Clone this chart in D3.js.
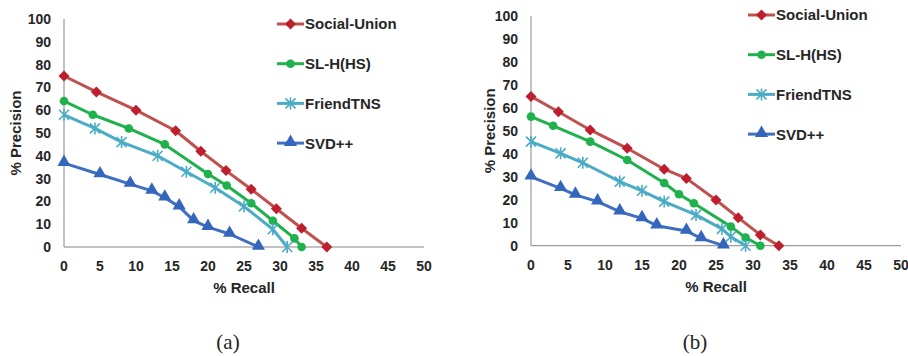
<!DOCTYPE html>
<html>
<head>
<meta charset="utf-8">
<script src="https://cdn.jsdelivr.net/npm/d3@7"></script>
<style>
  body { margin: 0; background: #fff; }
  text { font-family: "Liberation Sans", Arial, sans-serif; font-weight: bold; fill: #262626; }
  .caption { font-family: "Liberation Serif", "DejaVu Serif", serif; font-weight: normal; fill: #222; }
</style>
</head>
<body>
<svg id="chart" width="908" height="356"></svg>
<script>
// series names and ticks
var seriesNames = ["Social-Union", "SL-H(HS)", "FriendTNS", "SVD++"];
var xTicks = [0, 5, 10, 15, 20, 25, 30, 35, 40, 45, 50];
var yTicks = [0, 10, 20, 30, 40, 50, 60, 70, 80, 90, 100];

// panel (a) : [recall, precision]
var aSocialUnion = [[0, 75], [4.5, 68], [10, 60], [15.5, 51], [19, 42], [22.5, 33.5], [26, 25.3], [29.5, 16.8], [33, 8.2], [36.5, 0]];
var aSLH = [[0, 64], [4, 58], [9, 52], [14, 45], [20, 32], [22.6, 27], [26, 19.2], [29, 11.5], [32, 3.8], [33, 0]];
var aFriendTNS = [[0, 58], [4.3, 52], [8, 46], [13, 40], [17, 33], [21, 26], [25, 17.8], [29, 7.8], [31, 0]];
var aSVD = [[0, 36.8], [5, 31.8], [9.2, 27.6], [12.2, 24.6], [14, 21.6], [16, 17.7], [18, 11.6], [20, 8.7], [23, 5.7], [27, 0]];

// panel (b)
var bSocialUnion = [[0, 65], [3.7, 58.3], [8, 50.4], [13, 42.4], [18, 33.3], [21, 29.3], [25, 19.9], [28, 12.2], [31, 4.7], [33.5, 0]];
var bSLH = [[0, 56.2], [3, 52.2], [8, 45.3], [13, 37.3], [18, 27.3], [20, 22.4], [22, 18.5], [27, 8.3], [29, 3.5], [31, 0]];
var bFriendTNS = [[0, 45.3], [4, 40.2], [7, 36.1], [12, 27.9], [15, 23.9], [18, 19.2], [22.3, 13.4], [25.8, 7.3], [27, 3.9], [29, 0]];
var bSVD = [[0, 30], [4, 25], [6, 22.1], [9, 19.2], [12, 14.8], [15, 11.9], [17, 8.7], [21, 6.4], [23, 3.2], [26, 0]];

var styles = [
    { line: "#c0504d", fill: "#be1e2d", marker: "diamond" },
    { line: "#1fb14b", fill: "#1fb14b", marker: "circle" },
    { line: "#4bacc6", fill: "#4bacc6", marker: "star" },
    { line: "#3f6fc0", fill: "#3566bd", marker: "triangle" }
];

var svg = d3.select("#chart");

function drawMarker(g, type, st) {
    if (type === "diamond") {
        g.append("path").attr("d", "M0,-5.5L5.5,0L0,5.5L-5.5,0Z").attr("fill", st.fill);
    } else if (type === "circle") {
        g.append("circle").attr("r", 4.3).attr("fill", st.fill);
    } else if (type === "star") {
        g.append("path").attr("d", "M-5,-5L5,5M-5,5L5,-5M0,-6L0,6")
            .attr("stroke", st.fill).attr("stroke-width", 1.6).attr("fill", "none");
    } else {
        g.append("path").attr("d", d3.symbol().type(d3.symbolTriangle).size(75)()).attr("fill", st.fill)
            .attr("transform", "translate(0,-1)");
    }
}

function drawPanel(p) {
    var x = d3.scaleLinear().domain([0, 50]).range(p.xRange);
    var y = d3.scaleLinear().domain([0, 100]).range(p.yRange);
    var g = svg.append("g");

    // axes lines
    g.append("line").attr("x1", x(0)).attr("x2", x(0)).attr("y1", y(0)).attr("y2", y(100))
        .attr("stroke", "#868686").attr("stroke-width", 1);
    g.append("line").attr("x1", x(0)).attr("x2", x(50)).attr("y1", y(0)).attr("y2", y(0))
        .attr("stroke", "#868686").attr("stroke-width", 1);

    // tick labels
    g.selectAll(".yt").data(yTicks).enter().append("text")
        .attr("x", x(0) - 13).attr("y", d => y(d)).attr("dy", "0.36em")
        .attr("text-anchor", "end").style("font-size", "14px").text(d => d);
    g.selectAll(".xt").data(xTicks).enter().append("text")
        .attr("x", d => x(d)).attr("y", y(0) + 24)
        .attr("text-anchor", "middle").style("font-size", "14px").text(d => d);

    // axis titles
    g.append("text").attr("x", (p.xRange[0] + p.xRange[1]) / 2).attr("y", y(0) + 46)
        .attr("text-anchor", "middle").style("font-size", "15px").text("% Recall");
    g.append("text").attr("transform", "translate(" + p.yTitleX + "," + ((p.yRange[0] + p.yRange[1]) / 2) + ") rotate(-90)")
        .attr("text-anchor", "middle").style("font-size", "15px").text("% Precision");

    var line = d3.line().x(d => x(d[0])).y(d => y(d[1]));

    p.series.forEach(function(s, i) {
        var st = styles[i];
        g.append("path").datum(s).attr("d", line).attr("fill", "none")
            .attr("stroke", st.line).attr("stroke-width", 3).attr("stroke-linejoin", "round");
        s.forEach(function(d) {
            var m = g.append("g").attr("transform", "translate(" + x(d[0]) + "," + y(d[1]) + ")");
            drawMarker(m, st.marker, st);
        });
    });

    // legend
    seriesNames.forEach(function(name, i) {
        var st = styles[i];
        var ly = p.legendY + i * p.legendStep;
        g.append("line").attr("x1", p.legendX).attr("x2", p.legendX + 27).attr("y1", ly).attr("y2", ly)
            .attr("stroke", st.line).attr("stroke-width", 3);
        var m = g.append("g").attr("transform", "translate(" + (p.legendX + 13.5) + "," + ly + ")");
        drawMarker(m, st.marker, st);
        g.append("text").attr("x", p.legendX + 28).attr("y", ly).attr("dy", "0.36em")
            .style("font-size", "15px").text(name);
    });

    svg.append("text").attr("class", "caption").attr("x", p.captionX).attr("y", 349)
        .attr("text-anchor", "middle").style("font-size", "21px").text(p.caption);
}

drawPanel({
    xRange: [64, 424], yRange: [247, 19], yTitleX: 21,
    series: [aSocialUnion, aSLH, aFriendTNS, aSVD],
    legendX: 277, legendY: 24, legendStep: 39.7,
    captionX: 228, caption: "(a)"
});
drawPanel({
    xRange: [531, 901], yRange: [245.7, 16], yTitleX: 495,
    series: [bSocialUnion, bSLH, bFriendTNS, bSVD],
    legendX: 748, legendY: 15, legendStep: 39.7,
    captionX: 695, caption: "(b)"
});
</script>
</body>
</html>
